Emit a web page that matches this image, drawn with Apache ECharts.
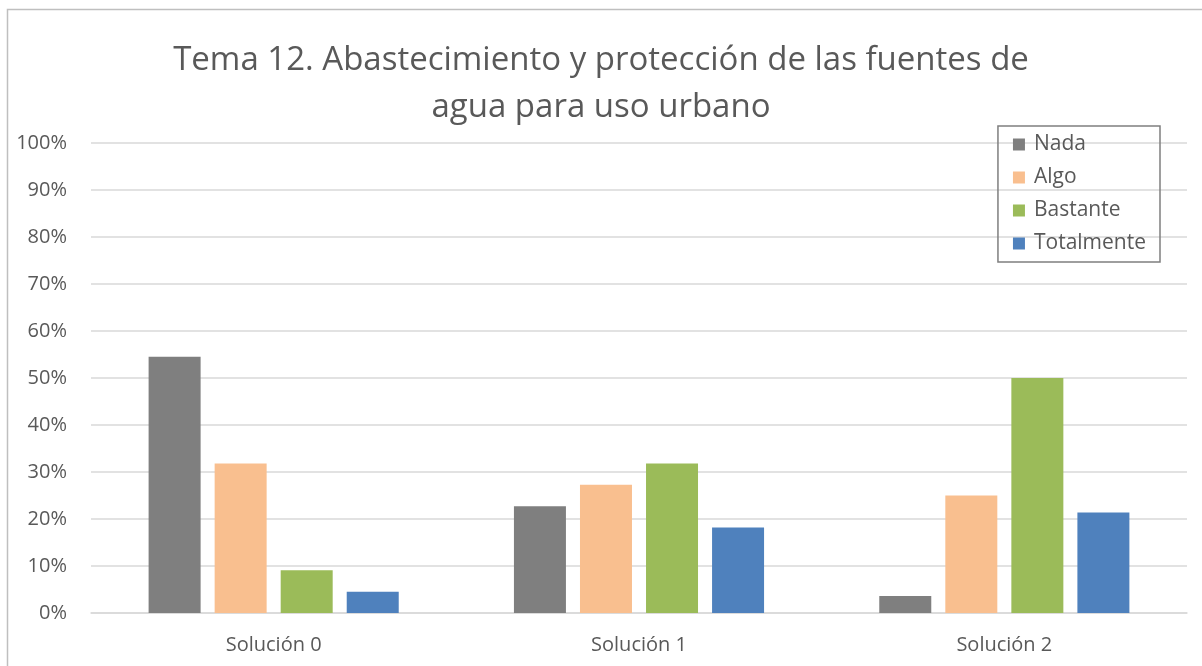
<!DOCTYPE html>
<html>
<head>
<meta charset="utf-8">
<script src="https://cdn.jsdelivr.net/npm/echarts@6/dist/echarts.min.js"></script>
<style>
    html, body {
        margin: 0;
        padding: 0;
        background: #ffffff;
    }
    #chart {
        width: 1202px;
        height: 666px;
    }
</style>
</head>
<body>
<div id="chart"></div>
<script>
const categories = ['Solución 0', 'Solución 1', 'Solución 2'];
const nada = [54.5, 22.7, 3.6];
const algo = [31.8, 27.3, 25.0];
const bastante = [9.1, 31.8, 50.0];
const totalmente = [4.5, 18.2, 21.4];

const textColor = '#595959';
const fontName = '"Open Sans", "Noto Sans", sans-serif';

var myChart = echarts.init(document.getElementById('chart'));

function barSeries(name, data, color) {
    return {
        name: name,
        type: 'bar',
        data: data,
        barWidth: 52,
        barGap: '27%',
        itemStyle: { color: color },
        emphasis: { disabled: true }
    };
}

myChart.setOption({
    animation: false,
    backgroundColor: '#ffffff',
    title: {
        text: 'Tema 12. Abastecimiento y protección de las fuentes de\nagua para uso urbano',
        left: 'center',
        top: 32,
        textStyle: {
            color: textColor,
            fontFamily: fontName,
            fontSize: 33,
            fontWeight: 'normal',
            lineHeight: 47
        }
    },
    legend: {
        orient: 'vertical',
        right: 42,
        top: 126,
        padding: [8, 14, 8, 15],
        borderColor: '#7f7f7f',
        borderWidth: 1.5,
        itemWidth: 12,
        itemHeight: 12,
        itemGap: 12,
        icon: 'rect',
        textStyle: {
            color: textColor,
            fontFamily: fontName,
            fontSize: 21,
            padding: [0, 0, 0, 4]
        },
        data: ['Nada', 'Algo', 'Bastante', 'Totalmente']
    },
    grid: {
        left: 91,
        right: 15,
        top: 143,
        bottom: 53
    },
    graphic: [
        {
            type: 'rect',
            silent: true,
            shape: { x: 7.5, y: 9.5, width: 1400, height: 900 },
            style: { fill: 'none', stroke: '#bfbfbf', lineWidth: 1.5 }
        }
    ],
    xAxis: {
        type: 'category',
        data: categories,
        axisTick: { show: false },
        axisLine: { lineStyle: { color: '#d9d9d9', width: 1.5 } },
        axisLabel: {
            color: textColor,
            fontFamily: fontName,
            fontSize: 20,
            margin: 22
        }
    },
    yAxis: {
        type: 'value',
        min: 0,
        max: 100,
        interval: 10,
        axisLine: { show: false },
        axisTick: { show: false },
        splitLine: { lineStyle: { color: '#d9d9d9', width: 1.5 } },
        axisLabel: {
            formatter: '{value}%',
            color: textColor,
            fontFamily: fontName,
            fontSize: 20,
            margin: 24
        }
    },
    series: [
        barSeries('Nada', nada, '#7f7f7f'),
        barSeries('Algo', algo, '#f9bf8f'),
        barSeries('Bastante', bastante, '#9bbb59'),
        barSeries('Totalmente', totalmente, '#4f81bd')
    ]
});
</script>
</body>
</html>
